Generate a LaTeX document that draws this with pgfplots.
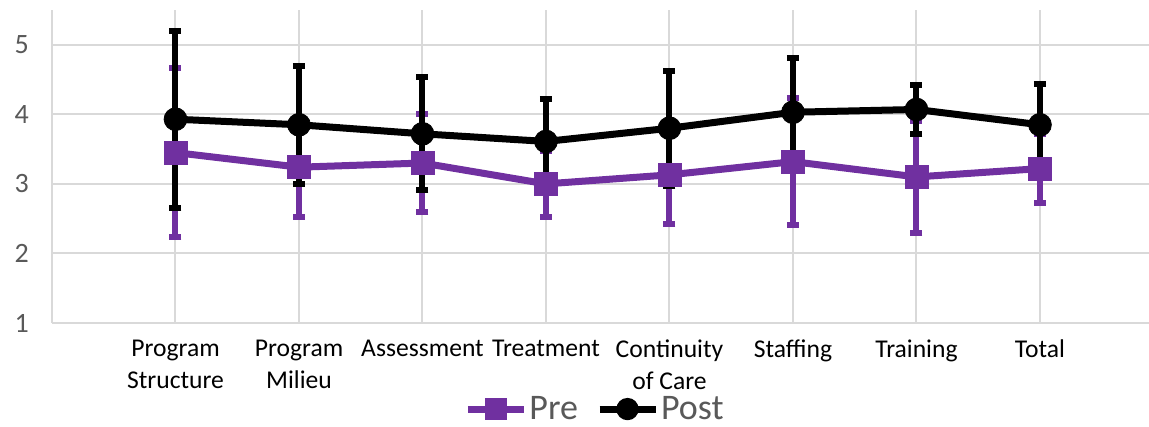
\documentclass[border=0pt]{standalone}
\usepackage{fontspec}
\setmainfont{Carlito}
\usepackage{pgfplots}
\usepackage{pgfplotstable}
\pgfplotsset{compat=1.18}

\definecolor{pre}{HTML}{7030A0}
\definecolor{gridgray}{HTML}{D9D9D9}
\definecolor{ticktext}{HTML}{595959}

% x: category index, means and standard deviations
\pgfplotstableread{
x  pre   preerr  post  posterr
0  3.45  1.22    3.93  1.27
1  3.24  0.71    3.85  0.85
2  3.30  0.71    3.72  0.81
3  3.00  0.48    3.61  0.61
4  3.13  0.70    3.80  0.83
5  3.32  0.91    4.03  0.78
6  3.10  0.81    4.07  0.35
7  3.22  0.50    3.85  0.59
}\scores

\begin{document}
\begin{tikzpicture}
\begin{axis}[
  scale only axis,
  width=548.5pt, height=156.5pt,
  xmin=-1, xmax=7.883,
  ymin=1, ymax=5.5,
  clip=false,
  axis x line*=bottom, axis y line*=left,
  axis line style={gridgray, line width=1pt, -},
  xtick={0,...,7},
  xticklabels={Program\\Structure, Program\\Milieu, Assessment, Treatment,
    Continuity\\of Care, Staffing, Training, Total},
  ytick={1,...,5},
  major tick length=0pt,
  grid=major,
  major grid style={gridgray, line width=1pt},
  /pgf/number format/assume math mode=true,
  xticklabel style={anchor=north, yshift=-5pt, align=center,
    font=\fontsize{12.8}{16}\selectfont, text=black},
  yticklabel style={anchor=east, xshift=-8pt,
    font=\fontsize{14}{16}\selectfont, text=ticktext},
  legend style={at={(0.495,-0.275)}, anchor=center, draw=none, fill=none,
    font=\fontsize{18}{19}\selectfont, text=ticktext,
    /tikz/every even column/.append style={column sep=8pt},
    nodes={inner sep=1pt},
    inner sep=0pt},
  legend columns=2,
  legend image code/.code={
    \draw[mark repeat=2, mark phase=2, #1]
      plot coordinates {(0pt,0pt) (14pt,0pt) (28pt,0pt)};
  },
]
% error bars first
\addplot[forget plot, only marks, mark=none,
  error bars/.cd, y dir=both, y explicit,
  error bar style={line width=3pt, pre},
  error mark options={rotate=90, pre, line width=3pt, mark size=3pt}]
  table[x=x, y=pre, y error=preerr] {\scores};
\addplot[forget plot, only marks, mark=none,
  error bars/.cd, y dir=both, y explicit,
  error bar style={line width=3pt, black},
  error mark options={rotate=90, black, line width=3pt, mark size=3pt}]
  table[x=x, y=post, y error=posterr] {\scores};
% lines
\addplot[forget plot, pre, line width=3.5pt, mark=none] table[x=x, y=pre] {\scores};
\addplot[forget plot, black, line width=3.5pt, mark=none] table[x=x, y=post] {\scores};
% markers
\addplot[forget plot, only marks, mark=square*, mark size=5.75pt, mark options={pre, fill=pre}]
  table[x=x, y=pre] {\scores};
\addplot[forget plot, only marks, mark=*, mark size=5.7pt, mark options={black, fill=black}]
  table[x=x, y=post] {\scores};
% legend
\addlegendimage{pre, line width=3.5pt, mark=square*, mark size=3.8pt, mark options={fill=pre}}
\addlegendentry{Pre}
\addlegendimage{black, line width=3.5pt, mark=*, mark size=3.8pt, mark options={fill=black}}
\addlegendentry{Post}
\end{axis}
\pgfresetboundingbox
\path (-26pt,-52pt) rectangle (548.5pt,161.5pt);
\end{tikzpicture}
\end{document}
